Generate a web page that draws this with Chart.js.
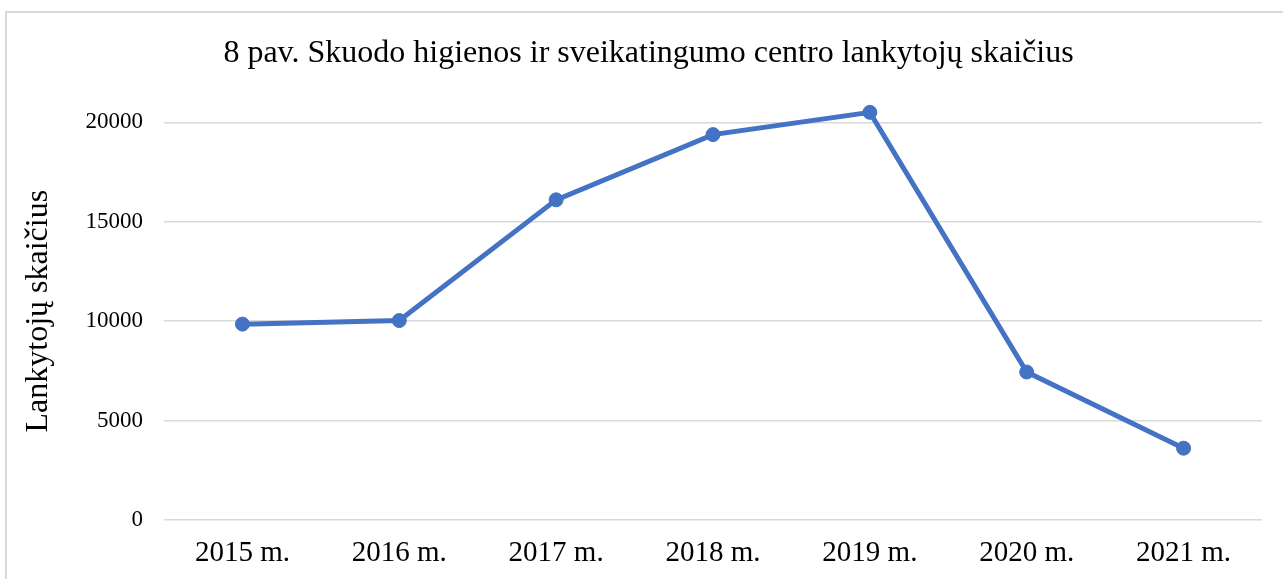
<!DOCTYPE html>
<html>
<head>
<meta charset="utf-8">
<script src="https://cdn.jsdelivr.net/npm/chart.js@4"></script>
<style>
  html, body { margin: 0; padding: 0; background: #fff; overflow: hidden; }
  #frame { position: absolute; left: 5px; top: 11px; width: 1400px; height: 700px; border: 2px solid #d9d9d9; box-sizing: border-box; }
  #wrap { position: absolute; left: 0; top: 0; width: 1283px; height: 579px; }
</style>
</head>
<body>
<div id="frame"></div>
<div id="wrap"><canvas id="c" width="1283" height="579"></canvas></div>
<script>
const categories = ['2015 m.', '2016 m.', '2017 m.', '2018 m.', '2019 m.', '2020 m.', '2021 m.'];
const visitors = [9850, 10030, 16100, 19380, 20500, 7440, 3610];
const yTicks = [0, 5000, 10000, 15000, 20000];
const titleText = '8 pav. Skuodo higienos ir sveikatingumo centro lankytojų skaičius';
const yTitleText = 'Lankytojų skaičius';

const serif = "'Liberation Serif', 'Times New Roman', serif";

new Chart(document.getElementById('c'), {
  type: 'line',
  data: {
    labels: categories,
    datasets: [{
      data: visitors,
      borderColor: '#4472C4',
      backgroundColor: '#4472C4',
      borderWidth: 5,
      pointRadius: 7,
      pointBorderWidth: 1,
      pointBackgroundColor: '#4472C4',
      pointBorderColor: '#4472C4',
      tension: 0,
      clip: false
    }]
  },
  options: {
    responsive: false,
    animation: false,
    devicePixelRatio: 1,
    layout: { padding: { left: 35, right: 21, top: 0, bottom: 0 } },
    plugins: {
      legend: { display: false },
      tooltip: { enabled: false },
      title: {
        display: true,
        text: titleText,
        color: '#000',
        font: { family: serif, size: 32, weight: 'normal' },
        padding: { top: 34, bottom: 30 }
      }
    },
    scales: {
      x: {
        offset: true,
        grid: { display: false, drawTicks: false },
        border: { display: false },
        ticks: { color: '#000', font: { family: serif, size: 29 }, padding: 16, maxRotation: 0, autoSkip: false },
        afterFit: s => { s.height = 59; }
      },
      y: {
        min: 0,
        max: 21000,
        afterBuildTicks: s => { s.ticks = yTicks.map(v => ({ value: v })); },
        grid: { color: '#d9d9d9', lineWidth: 1.5, drawTicks: false },
        border: { display: false },
        ticks: { color: '#000', font: { family: serif, size: 23 }, padding: 21, callback: v => String(v) },
        title: {
          display: true,
          text: yTitleText,
          color: '#000',
          font: { family: serif, size: 32, weight: 'normal' },
          padding: { top: -16, bottom: 0 }
        },
        afterFit: s => { s.width = 129; }
      }
    }
  }
});
</script>
</body>
</html>
